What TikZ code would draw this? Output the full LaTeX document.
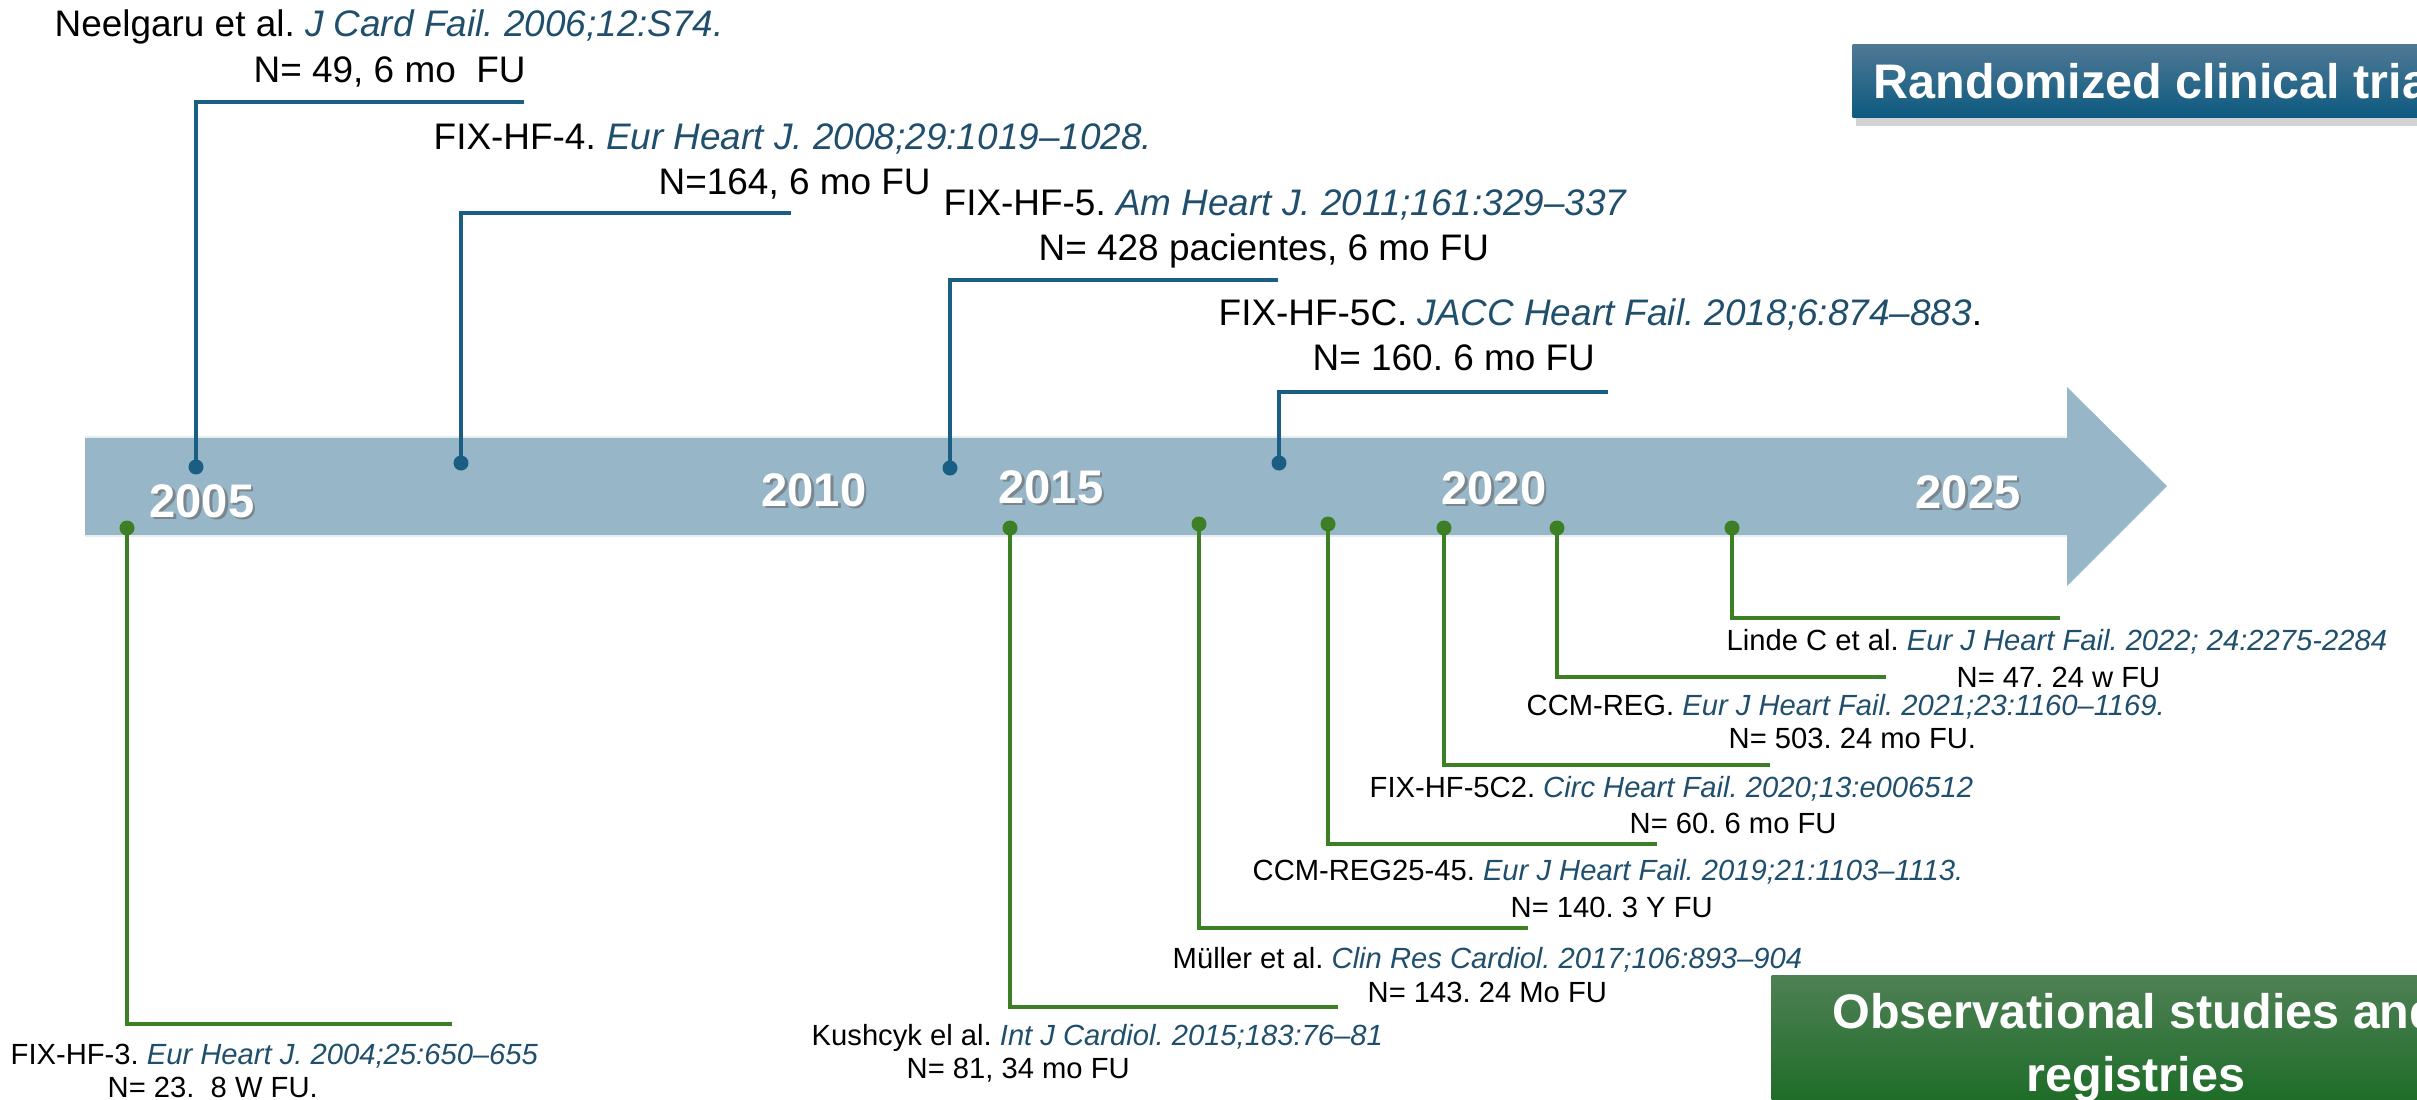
\documentclass[tikz,border=0pt]{standalone}
\usepackage{fontspec}
\setmainfont{Liberation Sans}
\usetikzlibrary{shadows}
\definecolor{bandc}{HTML}{97B7C9}
\definecolor{bluel}{HTML}{1A5E84}
\definecolor{greenl}{HTML}{3D7F24}
\definecolor{jcol}{HTML}{1F4F6C}
\definecolor{bboxtop}{HTML}{4F7894}
\definecolor{bboxbot}{HTML}{0D5A80}
\definecolor{gboxtop}{HTML}{4F8055}
\definecolor{gboxbot}{HTML}{176A22}
\newcommand\jnl[1]{{\color{jcol}\itshape #1}}
\begin{document}
\frenchspacing
\begin{tikzpicture}[x=0.01cm,y=-0.01cm,
  bline/.style={draw=bluel,line width=1.3pt},
  gline/.style={draw=greenl,line width=1.3pt},
  bdot/.style={circle,fill=bluel,inner sep=0pt,minimum size=0.15cm},
  gdot/.style={circle,fill=greenl,inner sep=0pt,minimum size=0.15cm},
  toplab/.style={anchor=base west,inner sep=0pt,font=\fontsize{10.5}{12}\selectfont},
  botlab/.style={anchor=base west,inner sep=0pt,font=\fontsize{8.3}{10}\selectfont},
  yearlab/.style={text=white,inner sep=0pt,font=\fontsize{13.4}{15}\selectfont\bfseries},
  yearshadow/.style={text=black!60,opacity=0.6,inner sep=0pt,font=\fontsize{13.4}{15}\selectfont\bfseries},
  titlebox/.style={text=white,font=\fontsize{13.8}{17.9}\selectfont\bfseries,
     drop shadow={shadow xshift=1pt,shadow yshift=-2.5pt,opacity=0.35}},
]
\clip (0,0) rectangle (2417,1100);

% timeline band arrow
\fill[bandc] (85,437) -- (2067,437) -- (2067,387) -- (2167,486) -- (2067,586) -- (2067,536) -- (85,536) -- cycle;
\draw[white!75!bandc,line width=0.4pt] (85,437) -- (2067,437) (85,536) -- (2067,536);

% years
\foreach \yx/\yy/\yt in {202/501/2005, 814/490/2010, 1051/487/2015, 1494/488/2020, 1968/492/2025}{
  \node[yearshadow] at (\yx+2.5,\yy+2.5) {\yt};
  \node[yearlab] (y\yt) at (\yx,\yy) {\yt};
}

% randomized clinical trials (blue, above)
\node[bdot] (b1) at (196,467) {};
\coordinate (b1e) at (524,102);
\draw[bline] (b1.center) |- (b1e);
\node[bdot] (b2) at (461,463) {};
\coordinate (b2e) at (791,213);
\draw[bline] (b2.center) |- (b2e);
\node[bdot] (b3) at (950,468) {};
\coordinate (b3e) at (1278,280);
\draw[bline] (b3.center) |- (b3e);
\node[bdot] (b4) at (1279,463) {};
\coordinate (b4e) at (1608,392);
\draw[bline] (b4.center) |- (b4e);

\node[toplab] (t1a) at (54,37) {Neelgaru et al. \jnl{J Card Fail. 2006;12:S74.}};
\node[toplab] (t1b) at (253,82) {N= 49, 6 mo~~FU};
\node[toplab] (t2a) at (433,149) {FIX-HF-4. \jnl{Eur Heart J. 2008;29:1019–1028.}};
\node[toplab] (t2b) at (658,194) {N=164, 6 mo FU};
\node[toplab] (t3a) at (943,215) {FIX-HF-5. \jnl{Am Heart J. 2011;161:329–337}};
\node[toplab] (t3b) at (1038,260) {N= 428 pacientes, 6 mo FU};
\node[toplab] (t4a) at (1218,325) {FIX-HF-5C. \jnl{JACC Heart Fail. 2018;6:874–883}.};
\node[toplab] (t4b) at (1312,370) {N= 160. 6 mo FU};

% observational studies (green, below)
\node[gdot] (g1) at (127,528) {};
\coordinate (g1e) at (452,1024);
\draw[gline] (g1.center) |- (g1e);
\node[gdot] (g2) at (1010,528) {};
\coordinate (g2e) at (1338,1007);
\draw[gline] (g2.center) |- (g2e);
\node[gdot] (g3) at (1199,524) {};
\coordinate (g3e) at (1528,928);
\draw[gline] (g3.center) |- (g3e);
\node[gdot] (g4) at (1328,524) {};
\coordinate (g4e) at (1657,844);
\draw[gline] (g4.center) |- (g4e);
\node[gdot] (g5) at (1444,528) {};
\coordinate (g5e) at (1770,765);
\draw[gline] (g5.center) |- (g5e);
\node[gdot] (g6) at (1557,528) {};
\coordinate (g6e) at (1886,677);
\draw[gline] (g6.center) |- (g6e);
\node[gdot] (g7) at (1732,528) {};
\coordinate (g7e) at (2060,618);
\draw[gline] (g7.center) |- (g7e);

\node[botlab] (s1a) at (10,1064) {FIX-HF-3. \jnl{Eur Heart J. 2004;25:650–655}};
\node[botlab] (s1b) at (107,1097) {N= 23.~~8 W FU.};
\node[botlab] (s2a) at (811,1045) {Kushcyk el al. \jnl{Int J Cardiol. 2015;183:76–81}};
\node[botlab] (s2b) at (906,1078) {N= 81, 34 mo FU};
\node[botlab] (s3a) at (1172,968) {Müller et al. \jnl{Clin Res Cardiol. 2017;106:893–904}};
\node[botlab] (s3b) at (1367,1002) {N= 143. 24 Mo FU};
\node[botlab] (s4a) at (1252,880) {CCM-REG25-45. \jnl{Eur J Heart Fail. 2019;21:1103–1113.}};
\node[botlab] (s4b) at (1510,917) {N= 140. 3 Y FU};
\node[botlab] (s5a) at (1369,797) {FIX-HF-5C2. \jnl{Circ Heart Fail. 2020;13:e006512}};
\node[botlab] (s5b) at (1629,833) {N= 60. 6 mo FU};
\node[botlab] (s6a) at (1526,715) {CCM-REG. \jnl{Eur J Heart Fail. 2021;23:1160–1169.}};
\node[botlab] (s6b) at (1728,748) {N= 503. 24 mo FU.};
\node[botlab] (s7a) at (1726,650) {Linde C et al. \jnl{Eur J Heart Fail. 2022; 24:2275-2284}};
\node[botlab] (s7b) at (1956,687) {N= 47. 24 w FU};

% legend boxes
\node[titlebox,anchor=west,minimum height=0.72cm,inner xsep=0.21cm,
      top color=bboxtop,bottom color=bboxbot] (rct) at (1852,81) {Randomized clinical trials};
\node[titlebox,anchor=north west,minimum width=7.28cm,minimum height=1.43cm,align=center,
      top color=gboxtop,bottom color=gboxbot] (obs) at (1771,975) {Observational studies and\\registries};
\end{tikzpicture}
\end{document}
